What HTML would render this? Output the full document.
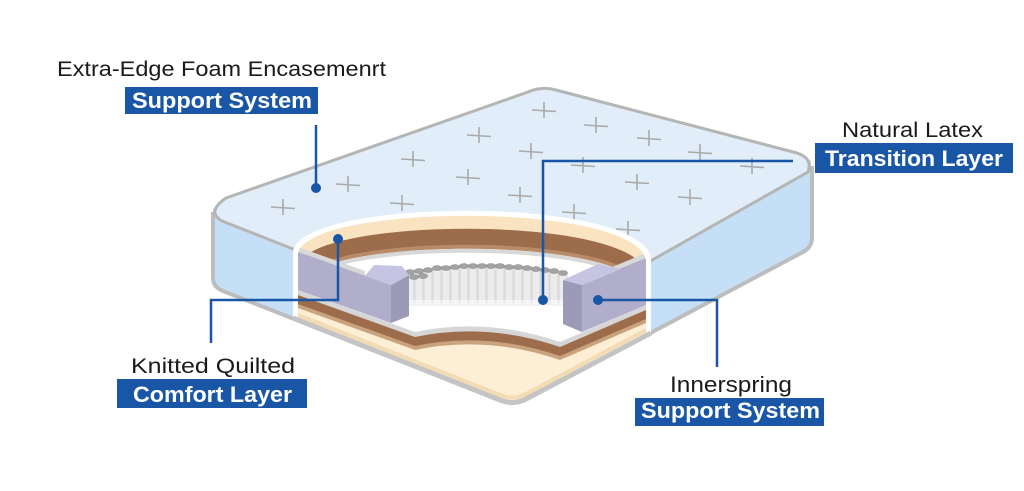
<!DOCTYPE html>
<html><head><meta charset="utf-8"><style>
html,body{margin:0;padding:0;background:#fff;}
svg{display:block;}
text{font-family:"Liberation Sans",Arial,sans-serif;}
</style></head><body>
<svg width="1024" height="491" viewBox="0 0 1024 491" xmlns="http://www.w3.org/2000/svg">
<defs>
<clipPath id="inner"><path d="M298,254 C305,203 635,201 646,260 L646,335 L528,398 Q514,406 500,400 L298,320 Z"/></clipPath>
</defs>
<rect width="1024" height="491" fill="#fff"/>

<!-- side faces -->
<path d="M213,208 L516,337 L516,404 L223,291 Q213,287 213,278 Z" fill="#c5e0f6"/>
<path d="M516,337 L811,160 L812,238 Q812,247 803,252 L516,404 Z" fill="#c5e0f6"/>
<path d="M213,212 L213,278 Q213,287 223,291 L500,400 Q514,406 528,398 L803,252 Q812,247 812,238 L812,166" fill="none" stroke="#bdbdbd" stroke-width="4" stroke-linejoin="round"/>

<!-- top face -->
<path d="M226,198 L528,92 Q542,86 556,90 L797,153 Q813,158 808,172 L516,337 L222,221 Q206,212 226,198 Z" fill="#e1edf8" stroke="#b5b5b5" stroke-width="3" stroke-linejoin="round"/>

<!-- plus marks -->
<g stroke="#a9a9a9" stroke-width="1.6" fill="none">
<path d="M532,110 L556,111.5 M544,102 L544,118"/>
<path d="M584,125 L608,126.5 M596,117 L596,133"/>
<path d="M467,135 L491,136.5 M479,127 L479,143"/>
<path d="M637,138 L661,139.5 M649,130 L649,146"/>
<path d="M519,151 L543,152.5 M531,143 L531,159"/>
<path d="M688,152 L712,153.5 M700,144 L700,160"/>
<path d="M401,159 L425,160.5 M413,151 L413,167"/>
<path d="M571,165 L595,166.5 M583,157 L583,173"/>
<path d="M740,166 L764,167.5 M752,158 L752,174"/>
<path d="M336,184 L360,185.5 M348,176 L348,192"/>
<path d="M456,177 L480,178.5 M468,169 L468,185"/>
<path d="M625,182 L649,183.5 M637,174 L637,190"/>
<path d="M271,207 L295,208.5 M283,199 L283,215"/>
<path d="M390,203 L414,204.5 M402,195 L402,211"/>
<path d="M508,195 L532,196.5 M520,187 L520,203"/>
<path d="M678,197 L702,198.5 M690,189 L690,205"/>
<path d="M562,212 L586,213.5 M574,204 L574,220"/>
<path d="M616,229 L640,230.5 M628,221 L628,237"/>
</g>

<!-- cut white border -->
<path d="M293,252 C300,197 640,195 651,258 L651,335 L528,398 Q514,406 500,400 L293,318 Z" fill="#fff"/>

<g clip-path="url(#inner)">
  <rect x="290" y="190" width="370" height="230" fill="#fff"/>
  <!-- arched back layers -->
  <path d="M298,254 C305,203 635,201 646,260 L646,274 C635,215 305,217 298,268 Z" fill="#f9e3c1"/>
  <path d="M298,267 C305,216 635,214 646,273 L646,292 C635,233 305,235 298,286 Z" fill="#9d6d4b"/>
  <path d="M298,283 C305,232 635,230 646,289 L646,293 C635,234 305,236 298,287 Z" fill="#b88c68"/>
  <path d="M298,287 C305,236 635,234 646,293 L646,297 C635,238 305,240 298,291 Z" fill="#d8d8d8"/>

  <!-- springs -->
  <g stroke="#cbcbcb" stroke-width="0.7" fill="#ececec">
    <rect x="406" y="272" width="8" height="33"/>
    <rect x="415" y="271" width="8" height="34"/>
    <rect x="424" y="270" width="8" height="35"/>
    <rect x="433" y="268" width="8" height="37"/>
    <rect x="442" y="268" width="8" height="37"/>
    <rect x="451" y="267" width="8" height="38"/>
    <rect x="460" y="266" width="8" height="39"/>
    <rect x="469" y="266" width="8" height="39"/>
    <rect x="478" y="266" width="8" height="39"/>
    <rect x="487" y="266" width="8" height="39"/>
    <rect x="496" y="266" width="8" height="39"/>
    <rect x="505" y="267" width="8" height="38"/>
    <rect x="514" y="267" width="8" height="38"/>
    <rect x="523" y="268" width="8" height="37"/>
    <rect x="532" y="269" width="8" height="36"/>
    <rect x="541" y="270" width="8" height="35"/>
    <rect x="550" y="271" width="8" height="34"/>
    <rect x="559" y="273" width="8" height="32"/>
  </g>
  <g fill="#a3a3a3" stroke="#8a8a8a" stroke-width="0.6">
    <ellipse cx="410" cy="272" rx="4.5" ry="2.5"/>
    <ellipse cx="419" cy="271" rx="4.5" ry="2.5"/>
    <ellipse cx="428" cy="270" rx="4.5" ry="2.5"/>
    <ellipse cx="437" cy="268" rx="4.5" ry="2.5"/>
    <ellipse cx="446" cy="268" rx="4.5" ry="2.5"/>
    <ellipse cx="455" cy="267" rx="4.5" ry="2.5"/>
    <ellipse cx="464" cy="266" rx="4.5" ry="2.5"/>
    <ellipse cx="473" cy="266" rx="4.5" ry="2.5"/>
    <ellipse cx="482" cy="266" rx="4.5" ry="2.5"/>
    <ellipse cx="491" cy="266" rx="4.5" ry="2.5"/>
    <ellipse cx="500" cy="266" rx="4.5" ry="2.5"/>
    <ellipse cx="509" cy="267" rx="4.5" ry="2.5"/>
    <ellipse cx="518" cy="267" rx="4.5" ry="2.5"/>
    <ellipse cx="527" cy="268" rx="4.5" ry="2.5"/>
    <ellipse cx="536" cy="269" rx="4.5" ry="2.5"/>
    <ellipse cx="545" cy="270" rx="4.5" ry="2.5"/>
    <ellipse cx="554" cy="271" rx="4.5" ry="2.5"/>
    <ellipse cx="563" cy="273" rx="4.5" ry="2.5"/>
    <ellipse cx="414" cy="277" rx="4.5" ry="2.5"/>
    <ellipse cx="423" cy="276" rx="4.5" ry="2.5"/>
  </g>
  <!-- floor white -->
  <path d="M395,300 L580,300 L580,345 L395,345 Z" fill="#fff" opacity="0.55"/>

  <!-- bottom stack -->
  <path d="M280,283 L298,290 L415,332 Q487,317 560,342 L646,305 L670,295 L670,440 L280,440 Z" fill="#d6d6d6"/>
  <path d="M280,288 L298,295 L415,337 Q487,322 560,347 L646,310 L670,300 L670,440 L280,440 Z" fill="#9d6d4b"/>
  <path d="M280,297 L298,304 L415,346 Q487,331 560,356 L646,319 L670,309 L670,440 L280,440 Z" fill="#c9a27e"/>
  <path d="M280,301 L298,308 L415,350 Q487,335 560,360 L646,323 L670,313 L670,440 L280,440 Z" fill="#fdeed6"/>
  <path d="M298,315 L500,395 Q514,401 528,393 L646,330" fill="none" stroke="#f3dcb3" stroke-width="4"/>

  <!-- wall strips -->
  <polygon points="298,247 365,271 365,276 298,252" fill="#d8d8d8"/>
  <polygon points="605,270 646,253 646,258 605,275.3" fill="#d8d8d8"/>

  <!-- left block -->
  <polygon points="298,252 391,285 391,323 298,290" fill="#b0aecb"/>
  <polygon points="391,285 409,275 409,316 391,323" fill="#9b9ab7"/>
  <polygon points="365,275.8 374,265 402,266 409,275 391,285" fill="#c5c5e3"/>

  <!-- right block -->
  <polygon points="563,280 582,285 582,332 563,324" fill="#9b9ab7"/>
  <polygon points="563,280 598,264 620,268.5 582,285" fill="#c5c5e3"/>
  <polygon points="582,285 646,258 646,305 582,332" fill="#b0aecb"/>
</g>

<!-- bottom outline over base -->
<path d="M293,318 L500,400 Q514,406 528,398 L651,333" fill="none" stroke="#c4c4c4" stroke-width="5" stroke-linejoin="round"/>

<!-- connectors -->
<g stroke="#1a56a6" stroke-width="2.5" fill="none">
  <path d="M316,125 L316,188"/>
  <path d="M793,161 L543,161 L543,300"/>
  <path d="M338,239 L338,300 L211,300 L211,343"/>
  <path d="M598,300 L717,300 L717,367"/>
</g>
<g fill="#1a56a6">
  <circle cx="316" cy="188" r="5"/>
  <circle cx="543" cy="300" r="5"/>
  <circle cx="338" cy="239" r="5"/>
  <circle cx="598" cy="300" r="5"/>
</g>

<!-- labels -->
<text x="57" y="76" font-size="21" fill="#1a1a1a" textLength="329" lengthAdjust="spacingAndGlyphs">Extra-Edge Foam Encasemenrt</text>
<rect x="125" y="87" width="193" height="27" fill="#1a56a6"/>
<text x="132" y="108" font-size="22" font-weight="bold" fill="#fff" textLength="180" lengthAdjust="spacingAndGlyphs">Support System</text>

<text x="842" y="137" font-size="21" fill="#1a1a1a" textLength="141" lengthAdjust="spacingAndGlyphs">Natural Latex</text>
<rect x="815" y="143" width="198" height="30" fill="#1a56a6"/>
<text x="825" y="166" font-size="22" font-weight="bold" fill="#fff" textLength="178" lengthAdjust="spacingAndGlyphs">Transition Layer</text>

<text x="131" y="373" font-size="21.5" fill="#1a1a1a" textLength="164" lengthAdjust="spacingAndGlyphs">Knitted Quilted</text>
<rect x="117" y="379" width="190" height="29" fill="#1a56a6"/>
<text x="133" y="402" font-size="22" font-weight="bold" fill="#fff" textLength="159" lengthAdjust="spacingAndGlyphs">Comfort Layer</text>

<text x="670" y="392" font-size="22" fill="#1a1a1a" textLength="122" lengthAdjust="spacingAndGlyphs">Innerspring</text>
<rect x="635" y="398" width="189" height="28" fill="#1a56a6"/>
<text x="641" y="418" font-size="22" font-weight="bold" fill="#fff" textLength="179" lengthAdjust="spacingAndGlyphs">Support System</text>
</svg>
</body></html>
